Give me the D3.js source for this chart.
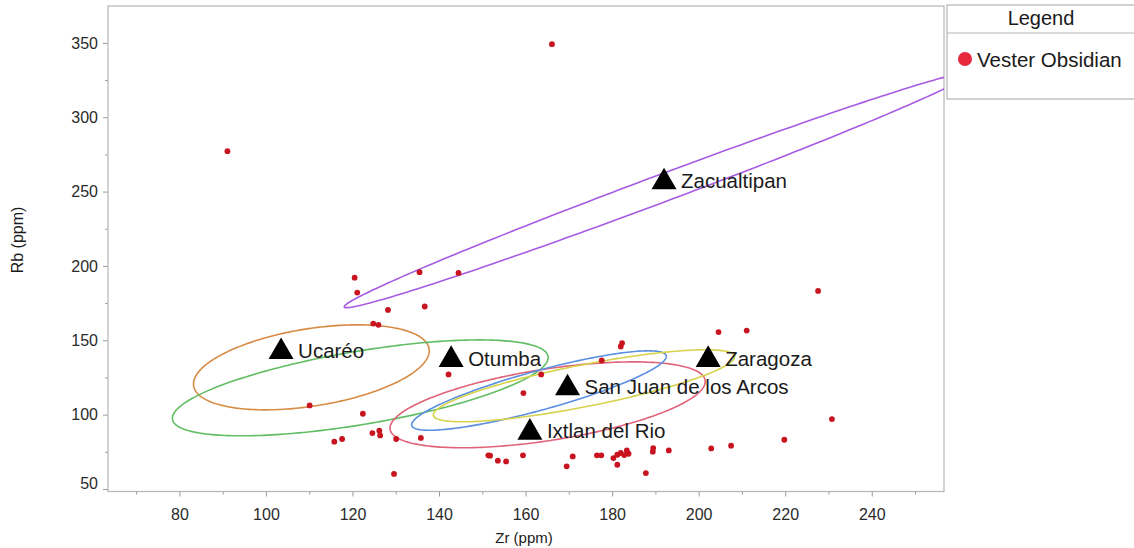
<!DOCTYPE html>
<html>
<head>
<meta charset="utf-8">
<script src="https://cdn.jsdelivr.net/npm/d3@7"></script>
<style>
  body { margin: 0; background: #fff; }
  svg { display: block; font-family: "Liberation Sans", Arial, sans-serif; }
</style>
</head>
<body>
<div class="chart"></div>
<script>
// DATA *****************************************************************
// Vester obsidian samples
var sampleZr = [91.1, 166.1, 120.5, 121.1, 135.5, 144.5, 128.2, 136.7, 227.6, 124.8,
                126.0, 110.1, 122.4, 142.2, 115.8, 117.6, 124.6, 126.2, 126.4, 130.1,
                135.8, 129.6, 151.4, 151.8, 153.6, 155.5, 159.4, 159.5, 163.6, 169.5,
                170.9, 176.5, 177.5, 177.6, 182.0, 182.3, 180.3, 181.2, 182.0, 182.8,
                183.4, 183.8, 181.2, 189.5, 189.4, 193.1, 187.8, 202.9, 207.5, 219.8,
                230.8, 204.6, 211.1];
var sampleRb = [277.2, 349.1, 192.1, 182.1, 195.8, 195.3, 170.4, 172.7, 183.2, 161.2,
                160.4, 106.2, 100.6, 127.0, 81.8, 83.6, 87.6, 89.2, 86.0, 83.6,
                84.3, 60.1, 72.6, 72.4, 69.0, 68.5, 72.6, 114.5, 127.0, 65.2,
                71.9, 72.6, 72.6, 136.4, 145.8, 148.1, 70.8, 73.0, 74.2, 72.8,
                75.9, 73.7, 66.3, 77.5, 75.1, 75.9, 60.7, 77.3, 79.1, 83.1,
                97.0, 155.5, 156.5];

// obsidian sources (triangles)
var sourceNames = ['Zacualtipan', 'Ucaréo', 'Otumba', 'Zaragoza', 'San Juan de los Arcos', 'Ixtlan del Rio'];
var sourceZr = [192.0, 103.5, 142.8, 202.2, 169.7, 161.0];
var sourceRb = [256.4, 142.2, 136.9, 136.9, 117.8, 88.0];

// source ellipses: centre, major half-axis and conjugate half-axis (Zr, Rb units)
var ellipseNames = ['Zacualtipan', 'Ucaréo', 'Otumba', 'Ixtlan del Rio', 'San Juan de los Arcos', 'Zaragoza'];
var ellipseColors = ['#a75be3', '#d88b45', '#62bd64', '#e06478', '#5b8fe0', '#d6d24a'];
var ellipseCx = [190.4, 110.5, 121.8, 165.1, 163.1, 173.5];
var ellipseCy = [251.0, 131.8, 118.0, 106.6, 116.2, 119.4];
var ellipseMajor = [[72.3, 78.6], [27.2, 12.5], [43.4, 21.2], [36.4, 16.5], [29.4, 23.5], [34.8, 19.9]];
var ellipseMinor = [[1.10, -8.6], [1.39, -25.7], [1.40, -24.3], [1.27, -23.7], [1.2, -12.7], [0.92, -13.8]];

// axes
var xMajorTicks = [80, 100, 120, 140, 160, 180, 200, 220, 240];
var xMinorTicks = [70, 90, 110, 130, 150, 170, 190, 210, 230, 250];
var yMajorTicks = [50, 100, 150, 200, 250, 300, 350];
var yMinorTicks = [75, 125, 175, 225, 275, 325];
var xDomain = [63.5, 256.7];
var yDomain = [48.3, 374.8];

// MARGIN CONVENTION ****************************************************
var W = 1134, H = 548;
var margin = {top: 6, left: 108, right: W - 944, bottom: H - 491.5};
var width = W - margin.left - margin.right,
    height = H - margin.top - margin.bottom;

var root = d3.select('.chart').append('svg')
    .attr('width', W)
    .attr('height', H);

var svg = root.append('g')
    .attr('transform', 'translate(' + margin.left + ',' + margin.top + ')');

// SCALES
var xScale = d3.scaleLinear().domain(xDomain).range([0, width]);
var yScale = d3.scaleLinear().domain(yDomain).range([height, 0]);

// AXES
var xAxis = d3.axisBottom(xScale).tickValues(xMajorTicks).tickSize(5).tickPadding(12);
var xAxisMinor = d3.axisBottom(xScale).tickValues(xMinorTicks).tickSize(3).tickFormat('');
var yAxis = d3.axisLeft(yScale).tickValues(yMajorTicks).tickSize(5).tickPadding(5);
var yAxisMinor = d3.axisLeft(yScale).tickValues(yMinorTicks).tickSize(3).tickFormat('');

function styleAxis(g) {
    g.select('.domain').remove();
    g.selectAll('line').attr('stroke', '#9a9a9a');
    g.selectAll('text').attr('fill', '#2a2a2a').style('font-size', '16px');
}

svg.append('g').attr('transform', 'translate(0,' + height + ')').call(xAxis).call(styleAxis);
svg.append('g').attr('transform', 'translate(0,' + height + ')').call(xAxisMinor).call(styleAxis);
var yAxisG = svg.append('g').call(yAxis).call(styleAxis);
svg.append('g').call(yAxisMinor).call(styleAxis);

// lowest y label sits a little above its tick, clear of the corner
yAxisG.selectAll('.tick text')
    .filter(function(d) { return d === yMajorTicks[0]; })
    .attr('dy', '-0.05em');

// frame
svg.append('rect')
    .attr('width', width)
    .attr('height', height)
    .attr('fill', 'none')
    .attr('stroke', '#b5b5b5')
    .attr('stroke-width', 1.2);

// axis titles
root.append('text')
    .attr('x', margin.left + width / 2 - 2)
    .attr('y', 543)
    .attr('text-anchor', 'middle')
    .attr('fill', '#1a1a1a')
    .style('font-size', '15px')
    .text('Zr (ppm)');

root.append('text')
    .attr('transform', 'translate(23,240) rotate(-90)')
    .attr('text-anchor', 'middle')
    .attr('fill', '#1a1a1a')
    .style('font-size', '16px')
    .text('Rb (ppm)');

// PLOT AREA (clipped)
svg.append('clipPath').attr('id', 'plotclip')
    .append('rect').attr('width', width).attr('height', height);

var plot = svg.append('g').attr('clip-path', 'url(#plotclip)');

// ellipses drawn parametrically through the scales
var line = d3.line()
    .x(function(d) { return xScale(d[0]); })
    .y(function(d) { return yScale(d[1]); })
    .curve(d3.curveLinearClosed);

function ellipsePoints(i) {
    var pts = [];
    for (var k = 0; k < 240; k++) {
        var t = k / 240 * 2 * Math.PI;
        pts.push([
            ellipseCx[i] + ellipseMajor[i][0] * Math.cos(t) + ellipseMinor[i][0] * Math.sin(t),
            ellipseCy[i] + ellipseMajor[i][1] * Math.cos(t) + ellipseMinor[i][1] * Math.sin(t)
        ]);
    }
    return pts;
}

plot.selectAll('path.ellipse')
    .data(ellipseNames)
    .enter()
    .append('path')
    .attr('class', 'ellipse')
    .attr('d', function(d, i) { return line(ellipsePoints(i)); })
    .attr('fill', 'none')
    .attr('stroke', function(d, i) { return ellipseColors[i]; })
    .attr('stroke-width', 1.6);

// samples
plot.selectAll('circle.sample')
    .data(sampleZr)
    .enter()
    .append('circle')
    .attr('class', 'sample')
    .attr('cx', function(d) { return xScale(d); })
    .attr('cy', function(d, i) { return yScale(sampleRb[i]); })
    .attr('r', 2.9)
    .attr('fill', '#c8141f');

// sources
var tri = d3.symbol().type(d3.symbolTriangle).size(270);
var sources = plot.selectAll('g.source')
    .data(sourceNames)
    .enter()
    .append('g')
    .attr('class', 'source')
    .attr('transform', function(d, i) {
        return 'translate(' + xScale(sourceZr[i]) + ',' + yScale(sourceRb[i]) + ')';
    });

sources.append('path')
    .attr('d', tri)
    .attr('fill', '#000');

sources.append('text')
    .attr('x', 17)
    .attr('y', 6)
    .attr('fill', '#1a1a1a')
    .style('font-size', '20.5px')
    .text(function(d) { return d; });

// LEGEND
var legend = root.append('g');
legend.append('rect')
    .attr('x', 947).attr('y', 5)
    .attr('width', 200).attr('height', 94)
    .attr('fill', '#fff')
    .attr('stroke', '#b5b5b5')
    .attr('stroke-width', 1.2);
legend.append('line')
    .attr('x1', 947).attr('x2', 1134)
    .attr('y1', 33).attr('y2', 33)
    .attr('stroke', '#b5b5b5')
    .attr('stroke-width', 1.2);
legend.append('text')
    .attr('x', 1041).attr('y', 25)
    .attr('text-anchor', 'middle')
    .attr('fill', '#1a1a1a')
    .style('font-size', '20px')
    .text('Legend');
legend.append('circle')
    .attr('cx', 965).attr('cy', 59)
    .attr('r', 7)
    .attr('fill', '#e8283c');
legend.append('text')
    .attr('x', 977).attr('y', 67)
    .attr('fill', '#1a1a1a')
    .style('font-size', '20.5px')
    .text('Vester Obsidian');
</script>
</body>
</html>
